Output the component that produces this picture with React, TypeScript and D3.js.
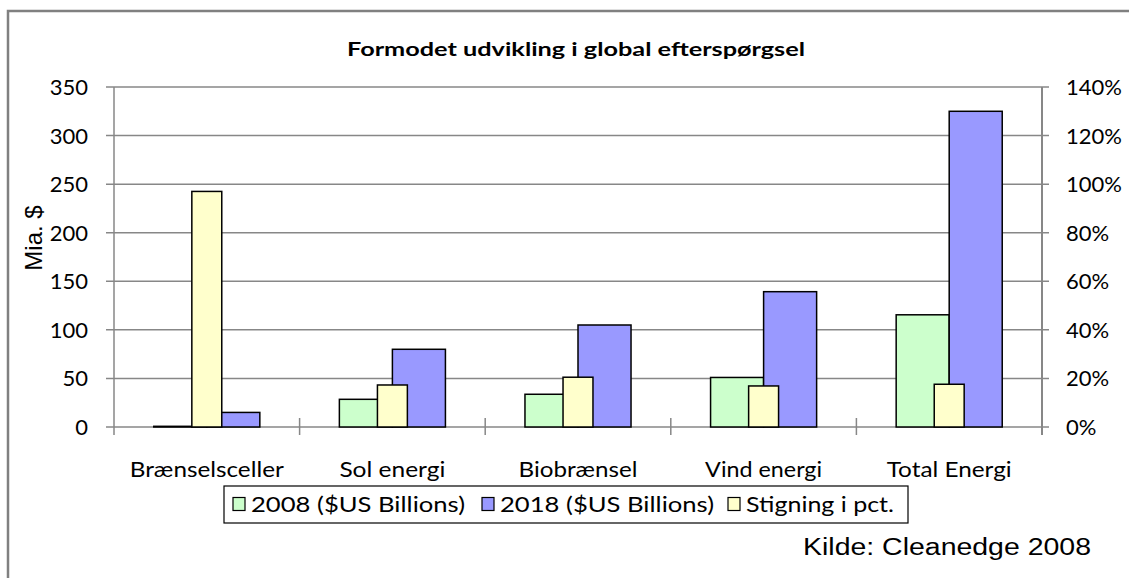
import React from 'react';
import * as d3 from 'd3';

// data
const categories = ['Brænselsceller', 'Sol energi', 'Biobrænsel', 'Vind energi', 'Total Energi'];
const values2008 = [0.7, 28.5, 33.7, 51, 115.5];
const values2018 = [15, 80, 105, 139.3, 325];
const increasePct = [0.97, 0.173, 0.205, 0.169, 0.176];
const leftTicks = [0, 50, 100, 150, 200, 250, 300, 350];
const rightTicks = [0, 0.2, 0.4, 0.6, 0.8, 1.0, 1.2, 1.4];
const legendLabels = ['2008 ($US Billions)', '2018 ($US Billions)', 'Stigning i pct.'];

const W = 1129;
const H = 578;
const plot = { left: 114, right: 1042, top: 87, bottom: 427 };
const font = 'Lato, "Open Sans", sans-serif';
const arial = '"Liberation Sans", Arial, sans-serif';
const gridColor = '#878787';
const green = '#CCFFCC';
const blue = '#9999FF';
const yellow = '#FFFFCC';

// rough label widths seen in the picture
const labelWidth: Record<string, number> = {
  'Brænselsceller': 154, 'Sol energi': 106, 'Biobrænsel': 119, 'Vind energi': 117, 'Total Energi': 125,
};

export default function App() {
  const x = d3.scaleBand<string>().domain(categories).range([plot.left, plot.right]);
  const bw = x.bandwidth();
  const inner = d3.scaleBand<string>().domain(['2008', '2018'])
    .range([0, bw]).paddingInner(0).paddingOuter(0.75);
  const yLeft = d3.scaleLinear().domain([0, 350]).range([plot.bottom, plot.top]);
  const yRight = d3.scaleLinear().domain([0, 1.4]).range([plot.bottom, plot.top]);
  const yellowW = bw / 6.2;
  const pctFmt = d3.format('.0%');

  // category boundary ticks
  const bounds = categories.map(c => x(c)!).concat([plot.right]);

  const legendItems = [
    { label: legendLabels[0], color: green, sq: 233, tx: 251, w: 214 },
    { label: legendLabels[1], color: blue, sq: 482, tx: 500, w: 214 },
    { label: legendLabels[2], color: yellow, sq: 728, tx: 746, w: 148 },
  ];

  return (
    <svg width={W} height={H} style={{ position: 'absolute', left: 0, top: 0, background: '#fff' }}>
      {/* outer frame, cut at right/bottom */}
      <path d={`M8,${H + 2}V11H${W + 2}`} fill="none" stroke="#808080" strokeWidth={2.5} />

      <text x={576} y={56} textAnchor="middle" fontFamily={font} fontWeight="bold" fontSize={19}
        textLength={458} lengthAdjust="spacingAndGlyphs">
        Formodet udvikling i global efterspørgsel
      </text>

      {/* gridlines and ticks */}
      {leftTicks.map(t => (
        <g key={'g' + t}>
          <line x1={plot.left - 8} x2={plot.right + 7} y1={yLeft(t)} y2={yLeft(t)} stroke={gridColor} strokeWidth={1.5} />
          <text x={88} y={yLeft(t) + 8} textAnchor="end" fontFamily={font} fontSize={22} fill="#000">{t}</text>
        </g>
      ))}
      {rightTicks.map(t => (
        <text key={'r' + t} x={1066} y={yRight(t) + 8} fontFamily={font} fontSize={22} fill="#000">{pctFmt(t)}</text>
      ))}
      <line x1={plot.left} x2={plot.left} y1={plot.top} y2={plot.bottom + 8} stroke={gridColor} strokeWidth={1.5} />
      <line x1={plot.right} x2={plot.right} y1={plot.top} y2={plot.bottom + 8} stroke={gridColor} strokeWidth={2} />
      {bounds.slice(1, -1).map((b, i) => (
        <line key={'b' + i} x1={b} x2={b} y1={plot.bottom - 9} y2={plot.bottom + 8} stroke={gridColor} strokeWidth={1.5} />
      ))}

      {/* bars */}
      {categories.map((c, i) => {
        const x0 = x(c)!;
        const mid = x0 + bw / 2;
        return (
          <g key={c}>
            <rect x={x0 + inner('2008')!} y={yLeft(values2008[i])} width={inner.bandwidth()}
              height={yLeft(0) - yLeft(values2008[i])} fill={green} stroke="#000" strokeWidth={1.5} />
            <rect x={x0 + inner('2018')!} y={yLeft(values2018[i])} width={inner.bandwidth()}
              height={yLeft(0) - yLeft(values2018[i])} fill={blue} stroke="#000" strokeWidth={1.5} />
            <rect x={mid - yellowW / 2} y={yRight(increasePct[i])} width={yellowW}
              height={yRight(0) - yRight(increasePct[i])} fill={yellow} stroke="#000" strokeWidth={1.5} />
            <text x={mid} y={477} textAnchor="middle" fontFamily={font} fontSize={22} fill="#000"
              textLength={labelWidth[c]} lengthAdjust="spacingAndGlyphs">{c}</text>
          </g>
        );
      })}

      <text transform="translate(42,238) rotate(-90)" textAnchor="middle" fontFamily={arial}
        fontSize={24} fill="#000">Mia. $</text>

      {/* legend */}
      <rect x={224} y={486} width={684} height={37} fill="#fff" stroke="#000" strokeWidth={1.2} />
      {legendItems.map(it => (
        <g key={it.label}>
          <rect x={it.sq} y={497.5} width={12} height={13} fill={it.color} stroke="#000" strokeWidth={1.2} />
          <text x={it.tx} y={512} fontFamily={font} fontSize={22} fill="#000"
            textLength={it.w} lengthAdjust="spacingAndGlyphs">{it.label}</text>
        </g>
      ))}

      <text x={803} y={555} fontFamily={arial} fontSize={23} fill="#000"
        textLength={288} lengthAdjust="spacingAndGlyphs">Kilde: Cleanedge 2008</text>
    </svg>
  );
}
